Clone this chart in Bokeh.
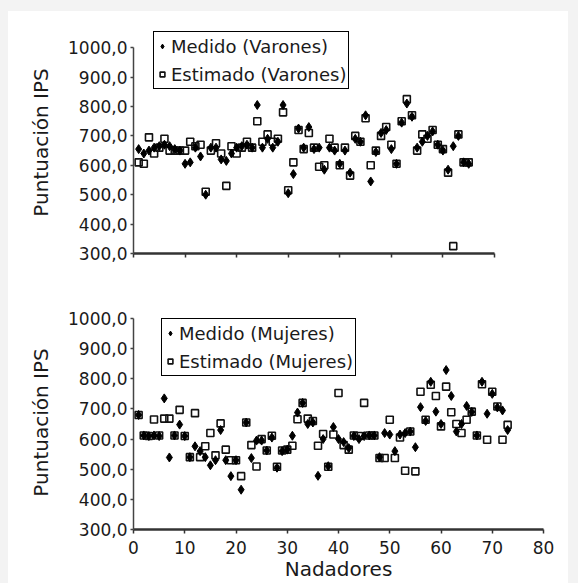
from bokeh.plotting import figure
from bokeh.layouts import column
from bokeh.models import FixedTicker, Legend, LegendItem, Range1d, ColumnDataSource
from bokeh.embed import file_html
from bokeh.resources import INLINE

# ---- data ----
top_x = list(range(1, 66))
top_medido = [655, 640, 650, 660, 665, 670, 665, 655, 650, 605, 610, 660, 630, 500, 660,
              660, 620, 615, 640, 660, 665, 670, 660, 805, 660, 690, 660, 680, 805, 505,
              570, 725, 660, 730, 655, 660, 585, 660, 650, 605, 650, 575, 690, 680, 770,
              545, 645, 710, 720, 655, 605, 745, 810, 765, 660, 680, 700, 715, 670, 650,
              585, 665, 700, 610, 605]
top_estimado = [610, 605, 695, 640, 660, 690, 650, 650, 650, 650, 680, 665, 670, 510, 650,
                675, 640, 530, 665, 640, 660, 680, 660, 750, 680, 705, 680, 690, 780, 515,
                610, 720, 655, 710, 660, 595, 600, 690, 660, 600, 660, 565, 700, 680, 760,
                600, 650, 700, 730, 670, 605, 750, 825, 770, 650, 705, 690, 720, 670, 655,
                575, 325, 705, 610, 610]

bot_x = list(range(1, 74))
bot_medido = [680, 612, 610, 612, 610, 735, 539, 612, 648, 610, 540, 576, 560, 540, 513,
              530, 630, 530, 477, 530, 432, 655, 537, 595, 595, 562, 605, 505, 560, 565,
              611, 688, 720, 650, 655, 478, 600, 510, 640, 600, 590, 570, 610, 600, 610,
              612, 612, 540, 620, 615, 560, 615, 620, 625, 573, 706, 660, 790, 691, 650,
              829, 743, 625, 650, 710, 690, 612, 790, 684, 750, 705, 695, 630]
bot_estimado = [680, 612, 610, 665, 612, 668, 668, 612, 697, 610, 540, 686, 540, 576, 620,
                546, 652, 565, 530, 530, 477, 655, 580, 509, 600, 562, 611, 508, 562, 565,
                578, 666, 720, 668, 660, 578, 617, 508, 615, 753, 580, 565, 612, 610, 720,
                612, 612, 537, 537, 664, 537, 605, 495, 625, 493, 757, 664, 780, 743, 642,
                774, 689, 650, 620, 664, 691, 612, 782, 598, 757, 708, 598, 647]

y_ticks = [300, 400, 500, 600, 700, 800, 900, 1000]
y_tick_labels = ["300,0", "400,0", "500,0", "600,0", "700,0", "800,0", "900,0", "1000,0"]
top_x_ticks = [0, 10, 20, 30, 40, 50, 60, 70]
bot_x_ticks = [0, 10, 20, 30, 40, 50, 60, 70, 80]
bot_x_tick_labels = ["0", "10", "20", "30", "40", "50", "60", "70", "80"]

FONT = "DejaVu Sans"
TXT = "#1a1a1a"


def make_fig(xs, med, est, xmax, ytop, xticks, xlabels, xtitle, names, legend_loc,
             border_top, frame_h, border_bottom, frame_w, border_right):
    p = figure(output_backend="svg", toolbar_location=None,
               x_range=Range1d(0, xmax), y_range=Range1d(300, ytop),
               frame_width=frame_w, frame_height=frame_h,
               min_border_left=125, min_border_right=border_right,
               min_border_top=border_top, min_border_bottom=border_bottom)
    p.outline_line_color = None
    p.grid.visible = False
    p.background_fill_color = "white"
    p.border_fill_color = "white"

    src = ColumnDataSource(dict(x=xs, m=med, e=est))
    r_e = p.scatter("x", "e", source=src, marker="square", size=7,
                    line_color="#111111", line_width=1.6, fill_color=None)
    r_m = p.scatter("x", "m", source=src, marker="diamond", size=9,
                    line_color="#000000", line_width=1, fill_color="#000000")

    # y axis
    ya = p.yaxis[0]
    ya.ticker = FixedTicker(ticks=y_ticks)
    ya.bounds = (300, 1000)
    ya.major_label_overrides = {t: l for t, l in zip(y_ticks, y_tick_labels)}
    ya.axis_label = "Puntuación IPS"
    ya.axis_label_text_font = FONT
    ya.axis_label_text_font_size = "20px"
    ya.axis_label_text_font_style = "normal"
    ya.axis_label_text_color = TXT
    ya.axis_label_standoff = 12
    ya.major_label_text_font = FONT
    ya.major_label_text_font_size = "17px"
    ya.major_label_text_color = TXT
    ya.major_label_standoff = 3
    ya.axis_line_color = "#444444"
    ya.axis_line_width = 1.5
    ya.major_tick_line_color = "#444444"
    ya.major_tick_line_width = 1.5
    ya.major_tick_in = 0
    ya.major_tick_out = 3
    ya.minor_tick_line_color = None

    # x axis
    xa = p.xaxis[0]
    xa.ticker = FixedTicker(ticks=xticks)
    xa.major_label_overrides = {t: l for t, l in zip(xticks, xlabels)}
    xa.major_label_text_font = FONT
    xa.major_label_text_font_size = "17px"
    xa.major_label_text_color = TXT
    xa.major_label_standoff = 7
    xa.axis_line_color = "#333333"
    xa.axis_line_width = 2.5
    xa.major_tick_line_color = "#333333"
    xa.major_tick_line_width = 1.5
    xa.major_tick_in = 0
    xa.major_tick_out = 4
    xa.minor_tick_line_color = None
    if xtitle:
        xa.axis_label = xtitle
        xa.axis_label_text_font = FONT
        xa.axis_label_text_font_size = "20px"
        xa.axis_label_text_font_style = "normal"
        xa.axis_label_text_color = TXT
        xa.axis_label_standoff = 0

    legend = Legend(items=[LegendItem(label=names[0], renderers=[r_m]),
                           LegendItem(label=names[1], renderers=[r_e])],
                    location=legend_loc,
                    border_line_color="#000000", border_line_alpha=1.0,
                    border_line_width=1.5,
                    background_fill_color="white", background_fill_alpha=1.0,
                    label_text_font=FONT, label_text_font_size="18px",
                    label_text_color=TXT, padding=2, spacing=4, margin=0,
                    glyph_width=12, glyph_height=24, label_standoff=3,
                    label_height=24)
    p.add_layout(legend, "center")
    return p


top_labels = ["" for _ in top_x_ticks]
p1 = make_fig(top_x, top_medido, top_estimado, 70, 1055, top_x_ticks, top_labels, None,
              ["Medido (Varones)", "Estimado (Varones)"], (20, 164),
              20, 222, 37, 361, 74)
p2 = make_fig(bot_x, bot_medido, bot_estimado, 80, 1010, bot_x_ticks, bot_x_tick_labels, "Nadadores",
              ["Medido (Mujeres)", "Estimado (Mujeres)"], (28, 153),
              25, 214, 53, 410, 25)

inner = column(p1, p2, spacing=0, margin=(11, 10, 0, 8),
               styles={"background-color": "white"})
layout = column(inner, spacing=0, styles={"background-color": "#f3f3f3"})
open("out.html", "w").write(file_html(layout, INLINE))
